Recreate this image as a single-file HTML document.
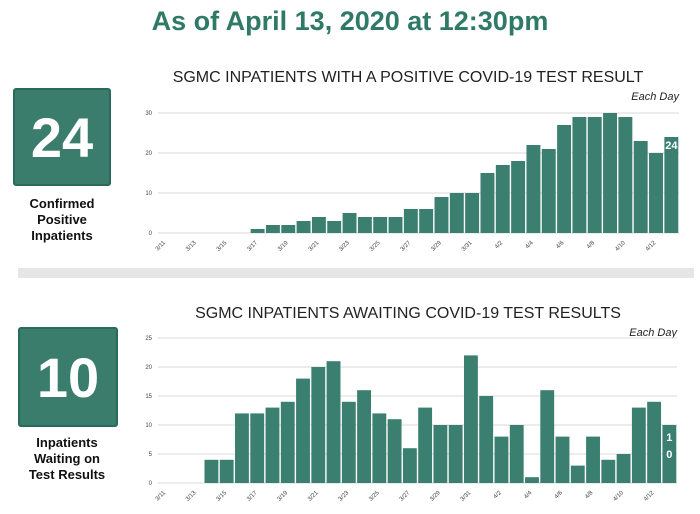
<!DOCTYPE html>
<html><head><meta charset="utf-8"><style>
body{margin:0;width:700px;height:514px;background:#fff;font-family:"Liberation Sans",sans-serif;position:relative;overflow:hidden}
.abs{position:absolute}
.box{background:#3a7d6c;border:2px solid #2a6a5a;border-radius:3px;color:#fff;font-weight:bold;display:flex;align-items:center;justify-content:center}
.cap{font-weight:bold;font-size:13px;text-align:center;line-height:16px;color:#111}
</style></head><body>
<div class="abs" style="left:0;top:6px;width:700px;text-align:center;font-size:27px;font-weight:bold;color:#2f7a66">As of April 13, 2020 at 12:30pm</div>
<div class="abs box" style="left:13px;top:88px;width:94px;height:94px;font-size:56px">24</div>
<div class="abs cap" style="left:0;top:196px;width:124px">Confirmed<br>Positive<br>Inpatients</div>
<div class="abs box" style="left:18px;top:327px;width:96px;height:96px;font-size:56px">10</div>
<div class="abs cap" style="left:0;top:435px;width:134px">Inpatients<br>Waiting on<br>Test Results</div>
<div class="abs" style="left:18px;top:268px;width:676px;height:10px;background:#e6e6e6"></div>
<svg class="abs" style="left:0;top:0" width="700" height="514" id="svg"></svg>
<script>
const dates=["3/11","3/12","3/13","3/14","3/15","3/16","3/17","3/18","3/19","3/20","3/21","3/22","3/23","3/24","3/25","3/26","3/27","3/28","3/29","3/30","3/31","4/1","4/2","4/3","4/4","4/5","4/6","4/7","4/8","4/9","4/10","4/11","4/12","4/13"];
const positiveValues=[0,0,0,0,0,0,1,2,2,3,4,3,5,4,4,4,6,6,9,10,10,15,17,18,22,21,27,29,29,30,29,23,20,24];
const awaitingValues=[0,0,0,4,4,12,12,13,14,18,20,21,14,16,12,11,6,13,10,10,22,15,8,10,1,16,8,3,8,4,5,13,14,10];
const positiveTicks=[0,10,20,30];
const awaitingTicks=[0,5,10,15,20,25];
const svg=document.getElementById('svg');
const NS='http://www.w3.org/2000/svg';
function mk(t,a,txt){const e=document.createElementNS(NS,t);for(const k in a)e.setAttribute(k,a[k]);if(txt!=null)e.textContent=txt;svg.appendChild(e);return e;}
function chart(cfg){
  const {vals,ticks,x0,x1,yBase,yTop,max,title,titleY,name,lastLabel}=cfg;
  const y=v=>yBase-(v/max)*(yBase-yTop);
  const slot=(x1-x0)/dates.length;
  const x=i=>x0+i*slot;
  let t=mk('text',{x:408,y:titleY,'text-anchor':'middle','font-size':16,fill:'#222'},title);
  
  
  t=mk('text',{x:x1,y:titleY+18,'text-anchor':'end','font-size':11,'font-style':'italic',fill:'#222'},'Each Day');
  
  
  ticks.forEach(v=>{
    const g=mk('line',{x1:x0,x2:x1,y1:y(v),y2:y(v),stroke:'#d8d8d8','stroke-width':1});
    
    
    const l=mk('text',{x:x0-6,y:y(v)+2,'text-anchor':'end','font-size':6,fill:'#444'},v);
    
    
  });
  vals.forEach((v,i)=>{
    if(v>0){const r=mk('rect',{x:x(i)+0.7,y:y(v),width:slot-1.4,height:yBase-y(v),fill:'#3a7f6f'});
    
    }
    if(i%2===0){const cx=x(i)+slot/2,cy=yBase+10;
      const l=mk('text',{x:cx,y:cy,'text-anchor':'end','font-size':6,fill:'#444',transform:`rotate(-45 ${cx} ${cy})`},dates[i]);
      
      }
  });
  const li=vals.length-1,lv=vals[li],cx=x(li)+slot/2;
  if(lastLabel==='h'){const l=mk('text',{x:cx,y:y(lv)+12,'text-anchor':'middle','font-size':11,'font-weight':'bold',fill:'#fff'},lv);
    
    }
  else{String(lv).split('').forEach((c,k)=>{const l=mk('text',{x:cx,y:y(lv)+16+k*17,'text-anchor':'middle','font-size':11,'font-weight':'bold',fill:'#fff'},c);
    
    });}
}
chart({vals:positiveValues,ticks:positiveTicks,x0:158,x1:679,yBase:233,yTop:113,max:30,title:'SGMC INPATIENTS WITH A POSITIVE COVID-19 TEST RESULT',titleY:82,name:'positive-chart',lastLabel:'h'});
chart({vals:awaitingValues,ticks:awaitingTicks,x0:158,x1:677,yBase:483,yTop:338,max:25,title:'SGMC INPATIENTS AWAITING COVID-19 TEST RESULTS',titleY:318,name:'awaiting-chart',lastLabel:'v'});
</script>
</body></html>
